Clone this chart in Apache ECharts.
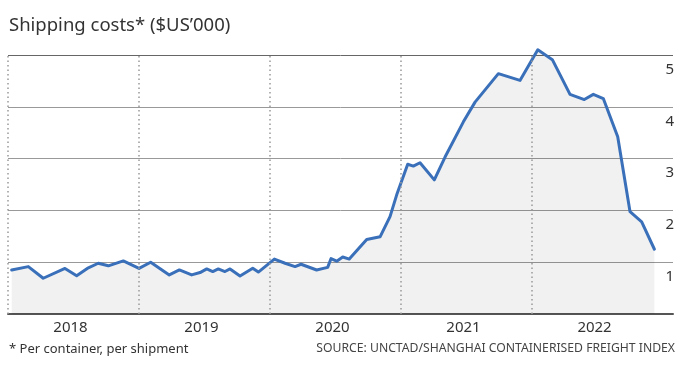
<!DOCTYPE html>
<html>
<head>
<meta charset="utf-8">
<script src="https://cdn.jsdelivr.net/npm/echarts@6/dist/echarts.min.js"></script>
<style>
html,body{margin:0;padding:0;background:#fff;}
#chart{width:677px;height:368px;}
</style>
</head>
<body>
<div id="chart"></div>
<script>
// Time as decimal years, values in $US'000 per container
const dates = [2018.028, 2018.155, 2018.269, 2018.435, 2018.524, 2018.605, 2018.689, 2018.766, 2018.880,
  2019.000, 2019.089, 2019.231, 2019.308, 2019.402, 2019.466, 2019.517, 2019.563, 2019.605, 2019.656,
  2019.695, 2019.771, 2019.868, 2019.911, 2020.033, 2020.115, 2020.191, 2020.237, 2020.356, 2020.440,
  2020.466, 2020.509, 2020.555, 2020.605, 2020.738, 2020.840, 2020.916, 2020.967, 2021.051, 2021.094,
  2021.145, 2021.254, 2021.336, 2021.476, 2021.565, 2021.743, 2021.908, 2022.044, 2022.155, 2022.290,
  2022.399, 2022.468, 2022.544, 2022.654, 2022.748, 2022.837, 2022.934];
const costs = [0.85, 0.915, 0.69, 0.88, 0.74, 0.88, 0.98, 0.93, 1.025,
  0.88, 1.0, 0.755, 0.85, 0.755, 0.80, 0.87, 0.82, 0.87, 0.82,
  0.87, 0.735, 0.885, 0.81, 1.06, 0.98, 0.915, 0.96, 0.85, 0.90,
  1.07, 1.02, 1.10, 1.06, 1.44, 1.49, 1.88, 2.30, 2.89, 2.855,
  2.92, 2.59, 3.03, 3.71, 4.09, 4.64, 4.51, 5.10, 4.91, 4.24,
  4.14, 4.24, 4.16, 3.42, 1.975, 1.78, 1.25];
const yearBoundaries = [2018, 2019, 2020, 2021, 2022];
const yTicks = [0, 1, 2, 3, 4, 5];

const titleText = "Shipping costs* ($US\u2019000)";
const noteText = "* Per container, per shipment";
const sourceText = "SOURCE: UNCTAD/SHANGHAI CONTAINERISED FREIGHT INDEX";

const font = "'Noto Sans', sans-serif";
const chart = echarts.init(document.getElementById('chart'), null, {renderer: 'canvas'});
chart.setOption({
  animation: false,
  backgroundColor: '#fff',
  textStyle: {fontFamily: font},
  title: [
    {text: titleText, left: 4, top: 11, textStyle: {fontFamily: font, fontSize: 18.5, fontWeight: 'normal', color: '#333'}},
    {text: noteText, left: 4, top: 338, textStyle: {fontFamily: font, fontSize: 13, fontWeight: 'normal', color: '#333'}},
    {text: sourceText, right: -3, top: 338, textStyle: {fontFamily: font, fontSize: 12.2, fontWeight: 'normal', color: '#444'}}
  ],
  grid: {left: 8, right: 4, top: 55, bottom: 54},
  xAxis: {
    type: 'value',
    min: 2018,
    max: 2023.076,
    interval: 0.5,
    axisLine: {show: true, lineStyle: {color: '#555', width: 2}},
    axisTick: {show: false},
    splitLine: {show: false},
    axisLabel: {
      margin: 6,
      fontSize: 15,
      color: '#333',
      fontFamily: font,
      showMinLabel: false,
      showMaxLabel: false,
      padding: [0, 6, 0, 0],
      formatter: v => (v % 1 !== 0 ? String(Math.floor(v)) : '')
    }
  },
  yAxis: {
    type: 'value',
    position: 'right',
    min: yTicks[0],
    max: yTicks[yTicks.length - 1],
    interval: 1,
    axisLine: {show: false},
    axisTick: {show: false},
    splitLine: {show: true, lineStyle: {color: ['#999', '#999', '#999', '#999', '#999', '#666'], width: 1}},
    axisLabel: {
      inside: true,
      margin: -1,
      fontSize: 15,
      color: '#333',
      fontFamily: font,
      showMinLabel: false,
      verticalAlign: 'top',
      lineHeight: 29
    }
  },
  series: [{
    type: 'line',
    data: dates.map((d, i) => [d, costs[i]]),
    showSymbol: false,
    clip: false,
    lineStyle: {color: '#3a70b9', width: 3, join: 'round', cap: 'round'},
    areaStyle: {color: 'rgba(0,0,0,0.08)'},
    markLine: {
      silent: true,
      symbol: ['none', 'none'],
      label: {show: false},
      lineStyle: {color: '#999', type: [1.5, 3], width: 1.5},
      data: yearBoundaries.map(y => ({xAxis: y}))
    }
  }]
});
</script>
</body>
</html>
